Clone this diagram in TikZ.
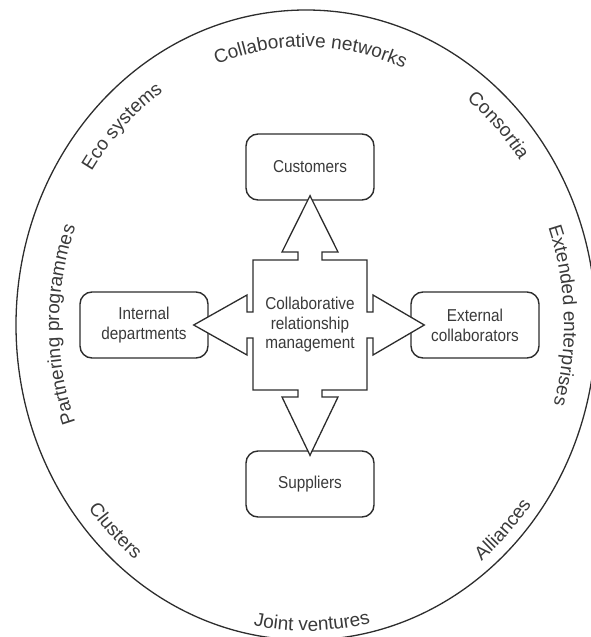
\documentclass[tikz,border=0pt]{standalone}
\usepackage{fontspec}
\setmainfont{Liberation Sans}[FakeStretch=0.89]
\newfontfamily\ringfam{Liberation Sans}
\usetikzlibrary{decorations.text,calc}

\definecolor{ink}{RGB}{45,45,45}
\definecolor{txt}{RGB}{58,58,58}

\newcommand\ringfont{\ringfam\fontsize{19}{22}\selectfont}

% text set along the inside of the outer ellipse
% #1 start angle, #2 end angle, #3 inset from the ellipse, #4 text
\newcommand\ringlabel[4]{%
  \path[decorate, decoration={text along path, text align=center,
        text color=txt, text={|\ringfont|#4}}]
    (306,325) ++(#1:{290-#3} and {315-#3})
    arc[start angle=#1, end angle=#2, x radius={290-#3}, y radius={315-#3}];
}

\begin{document}
\begin{tikzpicture}[x=1pt, y=-1pt,
  box/.style={draw=ink, line width=1.4pt, rounded corners=12pt,
    minimum width=128pt, minimum height=66pt, inner sep=0pt,
    align=center, text=txt, font=\fontsize{17.2}{20}\selectfont},
  cross/.style={draw=ink, line width=1.3pt, fill=white, line join=miter},
  ring/.style={draw=ink, line width=1.3pt}]
\useasboundingbox (0,0) rectangle (591,637);

% outer ring
\draw[ring] (306,325) ellipse [x radius=290, y radius=315];

\ringlabel{-129}{-49}{37}{Collaborative networks}
\ringlabel{-160}{-110}{34}{Eco systems}
\ringlabel{-70}{-18}{29}{Consortia}
\ringlabel{-40}{36}{32}{Extended enterprises}
\ringlabel{145}{215}{43}{Partnering programmes}
\ringlabel{160}{110}{15}{Clusters}
\ringlabel{70}{18}{11}{Alliances}
\ringlabel{120}{57.6}{9}{Joint ventures}

% partner boxes
\node[box] (cust) at (310,167) {Customers};
\node[box] (supp) at (310,484) {Suppliers};
\node[box] (intl) at (144,325) {Internal\\departments};
\node[box] (extl) at (475,325) {External\\collaborators};

% four-way arrow around the centre
\draw[cross]
  (253,260) -- (298,260) -- (298,252) -- (282,252)
  -- ($(cust.south)+(0,-5)$)
  -- (338,252) -- (322,252) -- (322,260) -- (367,260)
  -- (367,312) -- (373,312) -- (373,295)
  -- ($(extl.west)+(14,0)$)
  -- (373,355) -- (373,338) -- (367,338) -- (367,390)
  -- (322,390) -- (322,397) -- (338,397)
  -- ($(supp.north)+(0,5)$)
  -- (282,397) -- (298,397) -- (298,390) -- (253,390)
  -- (253,338) -- (247,338) -- (247,355)
  -- ($(intl.east)+(-15,0)$)
  -- (247,295) -- (247,312) -- (253,312) -- cycle;

\node[align=center, text=txt, font=\fontsize{17.2}{19.5}\selectfont]
  (crm) at (310,325) {Collaborative\\relationship\\management};
\end{tikzpicture}
\end{document}
